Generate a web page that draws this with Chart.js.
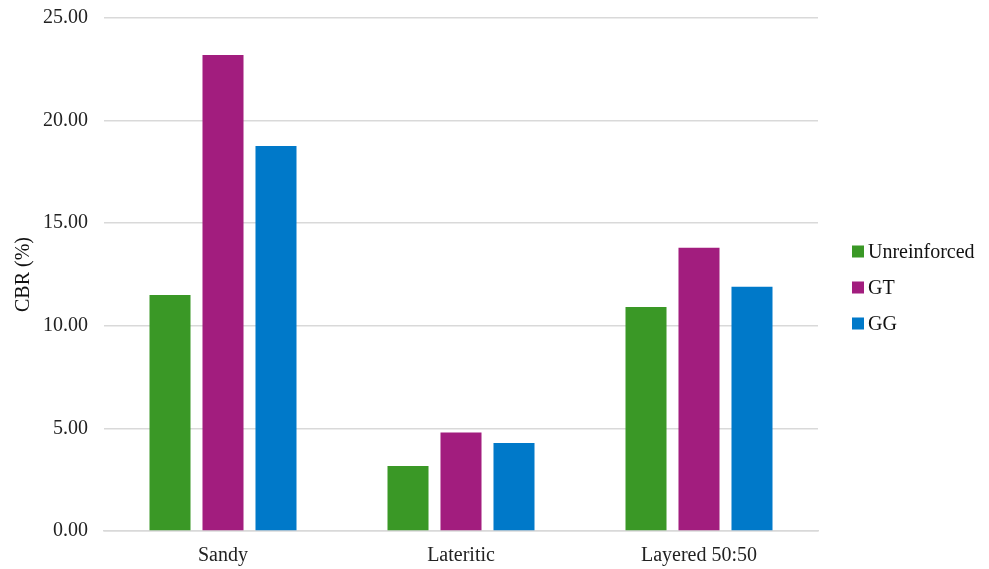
<!DOCTYPE html>
<html>
<head>
<meta charset="utf-8">
<script src="https://cdn.jsdelivr.net/npm/chart.js@4.4.1/dist/chart.umd.min.js"></script>
<style>
  html, body { margin: 0; padding: 0; background: #fff; }
  #cbrChart { display: block; }
</style>
</head>
<body>
<canvas id="cbrChart" width="989" height="569"></canvas>
<script>
// soil types along the x axis
const soils = ["Sandy", "Lateritic", "Layered 50:50"];

// CBR values (%) for each reinforcement case
const unreinforced = [11.50, 3.17, 10.92];
const gt = [23.20, 4.80, 13.80];
const gg = [18.76, 4.29, 11.90];

const yTicks = [0, 5, 10, 15, 20, 25];

const FONT = "'Liberation Serif', 'Times New Roman', serif";

var canvasElement = document.getElementById("cbrChart");
Chart.defaults.font.family = FONT;
Chart.defaults.color = "#222";

const bar = (label, values, color) => ({
    label: label,
    data: values,
    backgroundColor: color,
    borderWidth: 0,
    categoryPercentage: 0.668,
    barPercentage: 0.774
});

// legend drawn to the right of the plot, one square + label per dataset
const sideLegend = {
    id: 'sideLegend',
    afterDraw(chart) {
        const ctx = chart.ctx;
        const area = chart.chartArea;
        const x = area.right + 34;
        const rowGap = 36;
        const sets = chart.data.datasets;
        const y0 = chart.height / 2 + 3 - rowGap * (sets.length - 1) / 2;
        ctx.save();
        ctx.font = "20px " + FONT;
        ctx.textBaseline = 'middle';
        sets.forEach((ds, i) => {
            const y = y0 + i * rowGap;
            ctx.fillStyle = ds.backgroundColor;
            ctx.fillRect(x, y - 6, 12, 12);
            ctx.fillStyle = "#111";
            ctx.fillText(ds.label, x + 16, y + 1);
        });
        ctx.restore();
    }
};

var config = {
    type: 'bar',
    data: {
        labels: soils,
        datasets: [
            bar("Unreinforced", unreinforced, "#3a9826"),
            bar("GT", gt, "#a21d7e"),
            bar("GG", gg, "#0079c9")
        ]
    },
    options: {
        responsive: false,
        animation: false,
        layout: { padding: { top: 18, right: 171, left: 8, bottom: 0 } },
        plugins: {
            legend: { display: false },
            tooltip: { enabled: false }
        },
        scales: {
            x: {
                afterFit: (axis) => { axis.height = 38; axis.paddingLeft = 0; axis.paddingRight = 0; },
                grid: { display: false },
                border: { display: true, color: "#d9d9d9", width: 1.5 },
                ticks: { font: { size: 20 }, color: "#222", padding: 5 }
            },
            y: {
                min: 0,
                max: 25,
                afterBuildTicks: (axis) => { axis.ticks = yTicks.map(v => ({ value: v })); },
                afterFit: (axis) => { axis.width = 96; axis.paddingTop = 0; axis.paddingBottom = 0; },
                grid: { color: "#d9d9d9", lineWidth: 1.5, drawTicks: false },
                border: { display: false },
                ticks: {
                    font: { size: 20 },
                    color: "#222",
                    padding: 16,
                    callback: (v) => Number(v).toFixed(2)
                },
                title: {
                    display: true,
                    text: "CBR (%)",
                    font: { size: 20 },
                    color: "#111",
                    padding: { top: 4, bottom: 0 }
                }
            }
        }
    },
    plugins: [sideLegend]
};

var cbrChart = new Chart(canvasElement, config);
</script>
</body>
</html>
